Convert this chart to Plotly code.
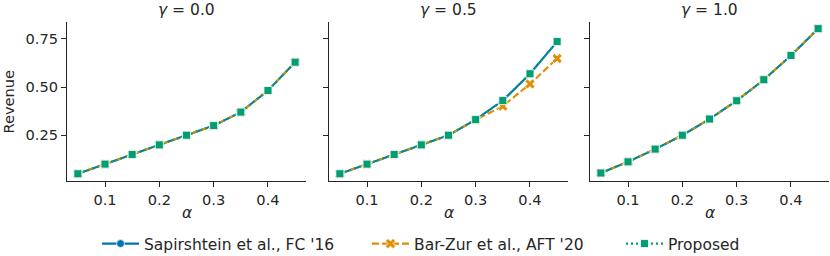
import plotly.graph_objects as go

alpha = [0.05, 0.10, 0.15, 0.20, 0.25, 0.30, 0.35, 0.40, 0.45]
gammas = ["0.0", "0.5", "1.0"]

# Revenue values per gamma panel
sap = {
    "0.0": [0.050, 0.100, 0.150, 0.200, 0.250, 0.300, 0.370, 0.482, 0.629],
    "0.5": [0.050, 0.100, 0.150, 0.200, 0.250, 0.331, 0.430, 0.569, 0.736],
    "1.0": [0.054, 0.112, 0.178, 0.250, 0.334, 0.429, 0.538, 0.664, 0.803],
}
barzur = {
    "0.0": [0.050, 0.100, 0.150, 0.200, 0.250, 0.300, 0.370, 0.482, 0.629],
    "0.5": [0.050, 0.100, 0.150, 0.200, 0.250, 0.330, 0.401, 0.516, 0.648],
    "1.0": [0.054, 0.112, 0.178, 0.250, 0.334, 0.429, 0.538, 0.664, 0.803],
}
proposed = {
    "0.0": [0.050, 0.100, 0.150, 0.200, 0.250, 0.300, 0.370, 0.482, 0.629],
    "0.5": [0.050, 0.100, 0.150, 0.200, 0.250, 0.331, 0.430, 0.569, 0.736],
    "1.0": [0.054, 0.112, 0.178, 0.250, 0.334, 0.429, 0.538, 0.664, 0.803],
}
x_ticks = [0.1, 0.2, 0.3, 0.4]
x_ticklabels = ["0.1", "0.2", "0.3", "0.4"]
y_ticks = [0.25, 0.5, 0.75]
y_ticklabels = ["0.25", "0.50", "0.75"]

series = [
    ("Sapirshtein et al., FC '16", sap, "#0173b2", "solid", "circle", 8, "legend"),
    ("Bar-Zur et al., AFT '20", barzur, "#de8f05", "7px,3px", "x", 9, "legend2"),
    ("Proposed", proposed, "#029e73", "2px,3px", "square", 8, "legend3"),
]

FONT = "DejaVu Sans"
TXT = "#262626"
FS = 14.6
LFS = 15.5
TFS = 15.5

fig = go.Figure()
for i, g in enumerate(gammas):
    ax = "" if i == 0 else str(i + 1)
    for name, data, color, dash, sym, msz, lg in series:
        fig.add_trace(go.Scatter(
            x=alpha, y=data[g], mode="lines+markers", name=name,
            legendgroup=name, showlegend=(i == 0), legend=lg,
            line=dict(color=color, width=2.1, dash=dash),
            marker=dict(symbol=sym, size=msz, color=color,
                        line=dict(color="white", width=0.8)),
            xaxis="x" + ax, yaxis="y" + ax,
        ))

W, H = 830, 256
L, R, T, B = 67, 1, 22, 75
pw = W - L - R
ph = H - T - B
doms = [(67, 306), (329, 568), (590, 829)]
doms = [((a - L) / pw, (b - L) / pw) for a, b in doms]

axis_common = dict(
    showline=True, linecolor=TXT, linewidth=1.1, ticks="outside", ticklen=5,
    tickwidth=1.1, tickcolor=TXT, showgrid=False, zeroline=False, mirror=False,
    automargin=False,
    tickfont=dict(family=FONT, size=FS, color=TXT),
)


def leg(px_left):
    return dict(orientation="h", x=(px_left - L) / pw, xanchor="left",
                y=-63 / ph, yanchor="middle",
                font=dict(family=FONT, size=LFS, color=TXT), itemwidth=37,
                tracegroupgap=0, bgcolor="rgba(0,0,0,0)")


layout = dict(
    width=W, height=H, margin=dict(l=L, r=R, t=T, b=B, autoexpand=False),
    plot_bgcolor="white", paper_bgcolor="white",
    font=dict(family=FONT, size=FS, color=TXT),
    showlegend=True,
    legend=leg(97), legend2=leg(367), legend3=leg(621),
)
annotations = []
for i, g in enumerate(gammas):
    ax = "" if i == 0 else str(i + 1)
    layout["xaxis" + ax] = dict(
        axis_common, domain=list(doms[i]), range=[0.03, 0.47],
        tickvals=x_ticks, ticktext=x_ticklabels, anchor="y" + ax,
    )
    ydict = dict(
        axis_common, domain=[0, 1], range=[0.0125, 0.8375],
        tickvals=y_ticks, anchor="x" + ax,
        showticklabels=(i == 0),
    )
    if i == 0:
        ydict["ticktext"] = y_ticklabels
    else:
        ydict["matches"] = "y"
    layout["yaxis" + ax] = ydict
    cx = (doms[i][0] + doms[i][1]) / 2
    annotations.append(dict(
        text="<i>γ</i> = " + g, x=cx, y=1.0,
        xref="paper", yref="paper", xanchor="center", yanchor="middle",
        yshift=12, showarrow=False, font=dict(family=FONT, size=TFS, color=TXT),
    ))
    annotations.append(dict(
        text="<i>α</i>", x=cx, y=0.0,
        xref="paper", yref="paper", xanchor="center", yanchor="middle",
        yshift=-32, showarrow=False, font=dict(family=FONT, size=TFS, color=TXT),
    ))
annotations.append(dict(
    text="Revenue", x=0, y=0.5, xref="paper", yref="paper",
    xanchor="center", yanchor="middle", xshift=-(L - 8), textangle=-90,
    showarrow=False, font=dict(family=FONT, size=FS, color=TXT),
))
layout["annotations"] = annotations
fig.update_layout(**layout)
fig.write_html("out.html", config={"displayModeBar": False},
               post_script="document.body.style.margin='0';")
